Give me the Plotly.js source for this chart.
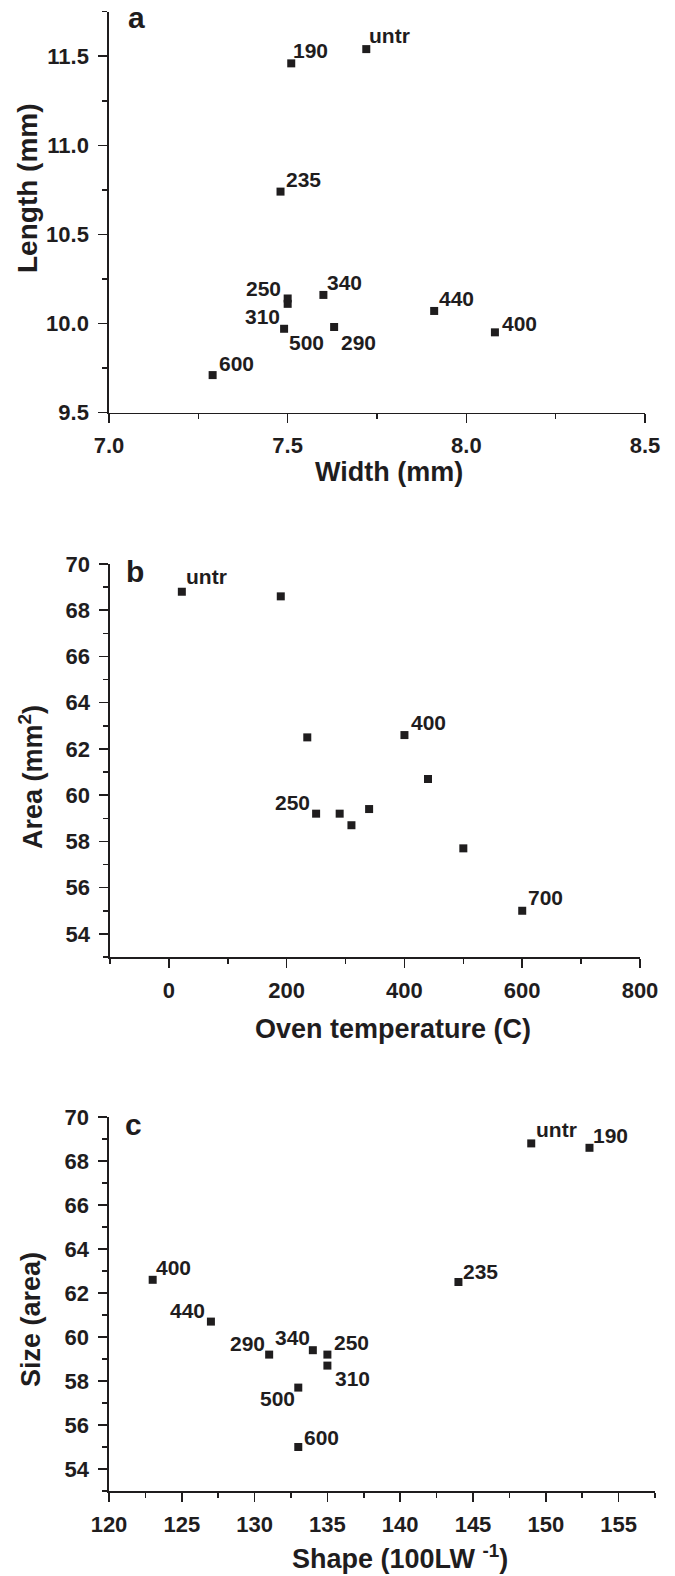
<!DOCTYPE html>
<html>
<head>
<meta charset="utf-8">
<script src="https://cdn.plot.ly/plotly-3.0.1.min.js"></script>
<style>
html,body{margin:0;padding:0;background:#fff;}
#chart{width:675px;height:1576px;}
</style>
</head>
<body>
<div id="chart"></div>
<script>
// ---------- DATA ----------
// Panel a: Length vs Width
const aLabels = ['untr','190','235','250','310','340','500','290','440','400','600'];
const aWidth  = [7.72, 7.51, 7.48, 7.50, 7.50, 7.60, 7.49, 7.63, 7.91, 8.08, 7.29];
const aLength = [11.54,11.46,10.74,10.14,10.11,10.16, 9.97, 9.98,10.07, 9.95, 9.71];

// Panel b: Area vs oven temperature
const bLabels = ['untr','','','250','','','','400','','','700'];
const bTemp   = [22, 190, 235, 250, 290, 310, 340, 400, 440, 500, 600];
const bArea   = [68.8,68.6,62.5,59.2,59.2,58.7,59.4,62.6,60.7,57.7,55.0];

// Panel c: Size vs shape
const cLabels = ['untr','190','235','400','440','290','340','250','310','500','600'];
const cShape  = [149, 153, 144, 123, 127, 131, 134, 135, 135, 133, 133];
const cSize   = [68.8,68.6,62.5,62.6,60.7,59.2,59.4,59.2,58.7,57.7,55.0];

// Tick values
const aXTicks = [7.0, 7.5, 8.0, 8.5];
const aYTicks = [9.5, 10.0, 10.5, 11.0, 11.5];
const bXTicks = [0, 200, 400, 600, 800];
const bYTicks = [54, 56, 58, 60, 62, 64, 66, 68, 70];
const cXTicks = [120, 125, 130, 135, 140, 145, 150, 155];
const cYTicks = [54, 56, 58, 60, 62, 64, 66, 68, 70];

// ---------- STYLE (label offsets in px: [dx right, dy down]) ----------
const aOffsets = [[23,-14],[19,-13],[23,-12],[-24,-10],[-25,13],[21,-12],[22,14],[24,15],[22,-12],[25,-9],[24,-12]];
const bOffsets = [[25,-15],[0,0],[0,0],[-24,-11],[0,0],[0,0],[0,0],[24,-13],[0,0],[0,0],[23,-13]];
const cOffsets = [[25,-14],[21,-12],[22,-11],[21,-12],[-23,-11],[-22,-11],[-20,-13],[24,-12],[25,13],[-21,11],[23,-10]];

const W = 675, H = 1576;
const FONT = 'Liberation Sans, Arial, Helvetica, sans-serif';
const INK = '#1f1d1e';
const px = v => v / W;
const py = v => 1 - v / H;

const marker = {symbol:'square', size:8, color:INK, line:{width:0}};

function trace(x, y, xa, ya){
  return {type:'scatter', mode:'markers', x:x, y:y, xaxis:xa, yaxis:ya,
          marker:marker, hoverinfo:'skip', showlegend:false, cliponaxis:false};
}

function axis(domain, range, tickvals, dtickMinor, fmt, anchor, standoff){
  return {
    domain:domain, range:range, anchor:anchor,
    showline:true, linecolor:INK, linewidth:1.7,
    showgrid:false, zeroline:false,
    ticks:'outside', ticklen:9, tickwidth:1.5, tickcolor:INK,
    tickmode:'array', tickvals:tickvals,
    ticktext:tickvals.map(v => fmt ? v.toFixed(1) : String(v)),
    ticklabelstandoff:standoff,
    tickfont:{family:FONT, size:22, color:INK, weight:'bold'},
    minor:{ticks:'outside', ticklen:5, tickwidth:1.5, tickcolor:INK,
           tickmode:'linear', tick0:range[0], dtick:dtickMinor, showgrid:false},
    fixedrange:true
  };
}

const layout = {
  width:W, height:H,
  margin:{l:0, r:0, t:0, b:0},
  paper_bgcolor:'#fff', plot_bgcolor:'rgba(0,0,0,0)',
  showlegend:false,
  xaxis:  axis([px(109), px(645)], [7.0, 8.5], aXTicks, 0.25, true, 'y', 3),
  yaxis:  axis([py(412.5), py(11.7)], [9.5, 11.75], aYTicks, 0.25, true, 'x', 5),
  xaxis2: axis([px(110), px(640)], [-100, 800], bXTicks, 100, false, 'y2', 4),
  yaxis2: axis([py(957), py(564)], [53, 70], bYTicks, 1, false, 'x2', 5),
  xaxis3: axis([px(109), px(655)], [120, 157.5], cXTicks, 2.5, false, 'y3', 4),
  yaxis3: axis([py(1491), py(1117)], [53, 70], cYTicks, 1, false, 'x3', 5),
  annotations: []
};

function pointLabels(labels, xs, ys, offs, xref, yref){
  labels.forEach((t, i) => {
    if (!t) return;
    layout.annotations.push({
      text:t, x:xs[i], y:ys[i], xref:xref, yref:yref, showarrow:false,
      xanchor:'center', yanchor:'middle', xshift:offs[i][0], yshift:-offs[i][1],
      font:{family:FONT, size:21, color:INK, weight:'bold'}
    });
  });
}
pointLabels(aLabels, aWidth, aLength, aOffsets, 'x', 'y');
pointLabels(bLabels, bTemp, bArea, bOffsets, 'x2', 'y2');
pointLabels(cLabels, cShape, cSize, cOffsets, 'x3', 'y3');

function paperText(t, x, y, size, rot){
  layout.annotations.push({
    text:t, x:px(x), y:py(y), xref:'paper', yref:'paper', showarrow:false,
    xanchor:'center', yanchor:'middle', textangle:rot || 0,
    font:{family:FONT, size:size, color:INK, weight:'bold'}
  });
}
// panel letters
paperText('a', 136, 18, 30);
paperText('b', 135, 572, 30);
paperText('c', 133, 1124, 30);
// axis titles
paperText('Width (mm)', 389, 472, 27);
paperText('Length (mm)', 28, 188, 28, -90);
paperText('Oven temperature (C)', 393, 1029, 27);
paperText('Area (mm<sup>2</sup>)', 31, 777, 27, -90);
paperText('Shape (100LW <sup>-1</sup>)', 400, 1557, 27);
paperText('Size (area)', 31, 1320, 27, -90);

const data = [
  trace(aWidth, aLength, 'x', 'y'),
  trace(bTemp, bArea, 'x2', 'y2'),
  trace(cShape, cSize, 'x3', 'y3')
];

Plotly.newPlot('chart', data, layout, {staticPlot:true, displayModeBar:false});
</script>
</body>
</html>
